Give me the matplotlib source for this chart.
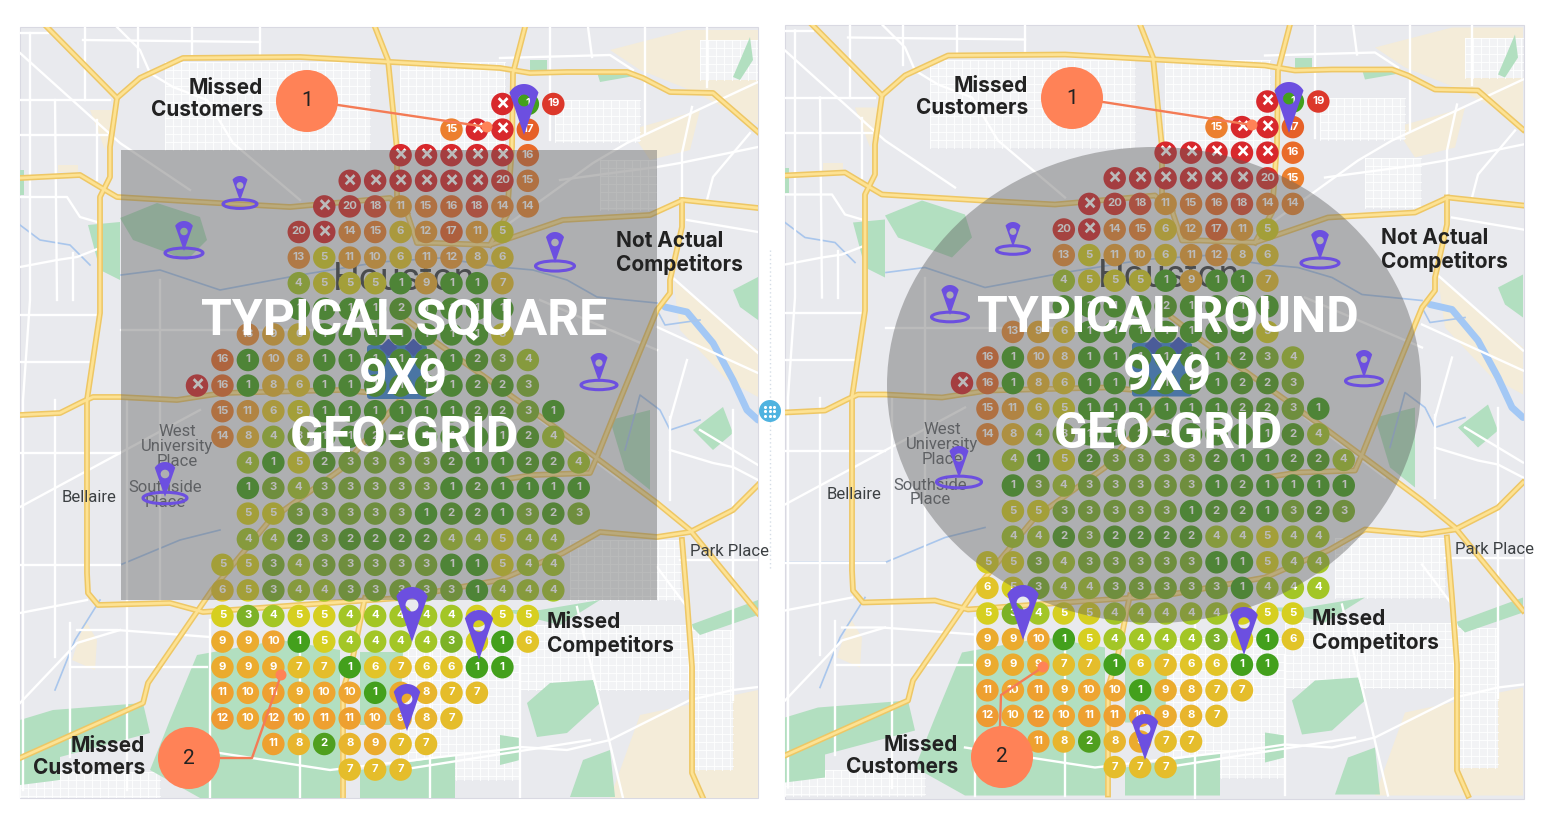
import matplotlib
matplotlib.use("Agg")
import matplotlib.pyplot as plt
import numpy as np
from matplotlib.patches import Circle, Ellipse, FancyBboxPatch, PathPatch, Polygon, Rectangle
from matplotlib.path import Path

# grid scores, "X" = not ranked. each row starts at the column in row_start
row_start = [12, 10, 8, 6, 5, 4, 4, 4, 4, 2, 1, 0, 1, 1, 2, 2, 2, 2, 1, 1, 1, 1, 1, 1, 1, 3, 6]
row_scores = [
    ["X", 1, 19],
    [15, "X", "X", 17],
    ["X", "X", "X", "X", "X", 16],
    ["X", "X", "X", "X", "X", "X", 20, 15],
    ["X", 20, 18, 11, 15, 16, 18, 14, 14],
    [20, "X", 14, 15, 6, 12, 17, 11, 5],
    [13, 5, 11, 10, 6, 11, 12, 8, 6],
    [4, 5, 5, 5, 1, 9, 1, 1, 7],
    [1, 1, 1, 1, 2, 1, 1, 1, 1],
    [13, 9, 6, 1, 1, 1, 1, 1, 1, 1, 5],
    [16, 1, 10, 8, 1, 1, 1, 1, 1, 1, 2, 3, 4],
    ["X", 16, 1, 8, 6, 1, 1, 1, 1, 1, 1, 2, 2, 3],
    [15, 11, 6, 5, 1, 1, 1, 1, 1, 1, 2, 2, 3, 1],
    [14, 8, 4, 3, 1, 1, 2, 2, 1, 1, 1, 1, 2, 4],
    [4, 1, 5, 2, 3, 3, 3, 3, 2, 1, 1, 2, 2, 4],
    [1, 3, 4, 3, 3, 3, 3, 3, 1, 2, 1, 1, 1, 1],
    [5, 5, 3, 3, 3, 3, 3, 1, 2, 2, 1, 3, 2, 3],
    [4, 4, 2, 3, 2, 2, 2, 2, 4, 4, 5, 4, 4],
    [5, 5, 3, 4, 3, 3, 3, 3, 3, 1, 1, 5, 4, 4],
    [6, 5, 3, 4, 4, 3, 3, 3, 3, 3, 1, 4, 4, 4],
    [5, 3, 4, 5, 5, 4, 4, 4, 4, 4, 5, 5, 5],
    [9, 9, 10, 1, 5, 4, 4, 4, 4, 3, 5, 1, 6],
    [9, 9, 9, 7, 7, 1, 6, 7, 6, 6, 1, 1],
    [11, 10, 11, 9, 10, 10, 1, 9, 8, 7, 7],
    [12, 10, 12, 10, 11, 11, 10, 9, 8, 7],
    [11, 8, 2, 8, 9, 7, 7],
    [7, 7, 7],
]

score_colors = {
    1: "#43a01c", 2: "#4f9f1e", 3: "#7cb227", 4: "#a3c626", 5: "#d6cf20",
    6: "#e2c428", 7: "#e5bd2b", 8: "#e8b52d", 9: "#ebab2e", 10: "#eea531",
    11: "#eea030", 12: "#ee9a32", 13: "#ec8e35", 14: "#ec8730", 15: "#ec7f2e",
    16: "#e96b2a", 17: "#e66028", 18: "#e14a2e", 19: "#dc382b", 20: "#d9302b",
    "X": "#d8282c",
}

# map geometry, drawn for the left panel and shifted for the right one
highways = [
    [(47, 27), (117, 98), (110, 147), (110, 177), (100, 197), (100, 313), (87, 400), (87, 573),
     (88, 593), (98, 605), (170, 603), (203, 612), (300, 605), (400, 598), (500, 580), (563, 553),
     (600, 532), (657, 537), (690, 532), (733, 510), (758, 485)],
    [(117, 98), (140, 78), (183, 58), (300, 57), (500, 68), (530, 73), (567, 72), (627, 72),
     (643, 78), (670, 92), (713, 93), (758, 132)],
    [(20, 178), (80, 175), (100, 187), (117, 197), (217, 203), (290, 207), (390, 198), (407, 213),
     (417, 243), (435, 243), (490, 245), (563, 220), (650, 215), (683, 200), (758, 208)],
    [(20, 415), (60, 413), (82, 402), (93, 397), (120, 397), (177, 400), (223, 393), (340, 390), (400, 395)],
    [(20, 758), (143, 703), (148, 683), (212, 590), (270, 520), (340, 470), (400, 400)],
    [(375, 27), (388, 60), (397, 150), (397, 200), (407, 213)],
    [(525, 27), (513, 73), (512, 147), (507, 215), (490, 245)],
    [(407, 320), (437, 343), (517, 400), (563, 433), (657, 503), (690, 530), (758, 613)],
    [(682, 200), (682, 227), (670, 280), (670, 293), (657, 310), (620, 400), (597, 457), (590, 473), (533, 475), (500, 480)],
    [(682, 540), (687, 600), (692, 667), (692, 773), (703, 798)],
    [(343, 797), (343, 690), (353, 657), (363, 607), (365, 598)],
]
white_roads = [
    [(20, 33), (48, 33)], [(83, 40), (260, 42)], [(138, 27), (138, 67)], [(85, 27), (85, 100)],
    [(192, 27), (192, 57)], [(260, 27), (260, 57)], [(30, 33), (30, 300), (23, 400), (23, 790)],
    [(20, 53), (120, 143), (190, 190)], [(20, 100), (110, 100)], [(20, 135), (107, 135)],
    [(55, 100), (57, 300)], [(73, 253), (73, 300)], [(20, 197), (67, 197), (80, 217), (97, 222)],
    [(20, 267), (57, 260), (77, 257), (100, 248)], [(117, 27), (140, 50), (150, 73), (173, 87), (207, 100), (233, 143), (300, 200)],
    [(97, 120), (97, 180)], [(20, 315), (100, 315)], [(20, 362), (90, 362)], [(20, 453), (120, 453)],
    [(20, 507), (120, 453), (200, 410)], [(20, 565), (120, 565)], [(20, 613), (87, 600)],
    [(77, 630), (117, 630), (210, 637)], [(20, 703), (77, 643), (120, 630)], [(70, 667), (207, 667)],
    [(55, 400), (55, 657)], [(127, 400), (127, 790)], [(70, 623), (70, 757)],
    [(670, 417), (670, 500)], [(670, 450), (713, 463), (733, 467), (758, 480)], [(733, 410), (733, 700)],
    [(657, 567), (687, 607), (692, 630)], [(577, 607), (623, 798)],
    [(200, 750), (330, 770), (500, 750), (520, 747), (567, 750), (610, 740), (690, 700), (733, 690), (758, 687)],
    [(520, 657), (520, 797)], [(550, 27), (550, 140)], [(588, 27), (592, 57)], [(645, 27), (645, 133)],
    [(707, 27), (707, 87)], [(500, 58), (610, 55), (633, 70)], [(758, 82), (627, 143), (593, 163), (500, 230)],
    [(692, 107), (682, 153), (682, 197)], [(758, 147), (680, 163), (657, 167), (560, 180)],
    [(750, 133), (713, 177), (707, 200)], [(687, 220), (758, 232)], [(672, 277), (758, 353)],
    [(657, 327), (758, 373)], [(687, 360), (670, 420)], [(121, 330), (340, 330)], [(160, 280), (160, 600)],
    [(540, 300), (657, 350)], [(540, 420), (620, 480)], [(430, 620), (430, 800)], [(300, 640), (300, 798)],
    [(210, 620), (210, 798)], [(400, 770), (590, 740)], [(680, 560), (758, 560)], [(700, 430), (758, 465)],
]
dense_blocks = [
    (165, 62, 370, 150), (400, 62, 505, 150), (555, 100, 640, 142), (690, 630, 733, 770), (520, 625, 690, 690),
    (570, 540, 680, 600), (20, 772, 160, 798), (400, 640, 520, 780), (600, 160, 656, 210), (700, 40, 758, 80),
]
parks = [
    [(197, 655), (280, 640), (340, 650), (340, 798), (200, 798), (150, 770), (170, 720)],
    [(360, 652), (403, 652), (400, 725), (360, 725)],
    [(360, 770), (455, 755), (455, 798), (360, 798)],
    [(527, 703), (550, 683), (593, 680), (600, 703), (567, 733), (537, 737)],
    [(500, 735), (520, 738), (520, 760), (500, 765)], [(583, 760), (610, 750), (615, 797), (570, 797)],
    [(120, 218), (157, 203), (200, 217), (207, 240), (187, 260), (133, 240)],
    [(88, 225), (120, 222), (120, 280), (100, 270)],
    [(733, 290), (758, 277), (758, 320), (740, 307)], [(733, 77), (750, 37), (753, 60), (740, 80)],
    [(530, 60), (547, 60), (547, 73), (530, 73)], [(597, 72), (640, 75), (600, 82)],
    [(693, 430), (723, 407), (733, 433), (713, 450)], [(610, 420), (650, 410), (650, 490), (625, 470)],
    [(20, 720), (53, 710), (143, 703), (150, 733), (60, 757), (60, 780), (20, 785)],
    [(500, 610), (540, 610), (600, 600), (560, 625)], [(690, 625), (758, 600), (758, 615), (700, 635)],
    [(20, 195), (24, 195), (24, 170), (20, 170)],
]
beige = [
    [(640, 715), (758, 690), (758, 798), (610, 798)], [(673, 280), (758, 350), (758, 397), (727, 380), (680, 330)],
    [(610, 50), (687, 30), (758, 30), (758, 125), (690, 90), (640, 70)], [(630, 130), (700, 110), (690, 150), (650, 160)],
    [(90, 110), (117, 110), (105, 150)], [(58, 165), (78, 165), (78, 172), (58, 172)], [(97, 640), (85, 620), (72, 660), (95, 670)],
]
rivers = [[(665, 307), (687, 312), (713, 343), (733, 380), (747, 410), (758, 420)]]
bayous = [
    [(657, 303), (597, 297), (567, 280), (533, 270), (500, 267), (440, 258), (380, 262), (300, 275), (220, 290), (160, 270), (121, 275)],
    [(657, 310), (665, 325), (700, 320)], [(700, 420), (670, 430), (660, 410), (640, 395), (625, 450)],
    [(20, 225), (40, 240), (70, 245), (90, 265)], [(20, 565), (120, 565), (180, 540), (220, 530)], [(55, 690), (75, 640), (100, 600)],
]

map_labels = ["Houston", "West\nUniversity\nPlace", "Southside\nPlace", "Bellaire", "Park Place"]
callout_names = ["1", "2"]
line_one = "Missed\nCustomers"
line_two = "Not Actual\nCompetitors"
line_three = "Missed\nCompetitors"

PURPLE = "#6c4fe0"
ORANGE = "#ff8257"
MAP_BG = "#e9eaee"
TEXT_FONT = ["Inter", "DejaVu Sans"]
TITLE_FONT = ["Liberation Sans Narrow", "Roboto"]

fig = plt.figure(figsize=(15.49, 8.25), dpi=100, facecolor="white")
ax = fig.add_axes([0, 0, 1, 1])
ax.set_xlim(0, 1549)
ax.set_ylim(825, 0)
ax.axis("off")


def pin_path(x, top, tip, w):
    r = w / 2
    cy = top + r
    d = tip - cy
    phi = np.arcsin(min(r / d, 1))
    a = np.linspace(np.pi / 2 + phi - 2 * np.pi + np.pi, np.pi / 2 - phi + np.pi, 60)
    # arc from lower right, over the top, to lower left
    a = np.linspace(phi, np.pi - phi, 60)
    px = x + r * np.cos(a)
    py = cy - r * np.sin(a)
    verts = [(x, tip)] + list(zip(px, py)) + [(x, tip)]
    codes = [Path.MOVETO] + [Path.LINETO] * (len(verts) - 2) + [Path.CLOSEPOLY]
    hole_r = r * 0.36
    t = np.linspace(0, 2 * np.pi, 30)
    hx = x + hole_r * np.cos(t)
    hy = cy + hole_r * np.sin(t)
    verts2 = list(zip(hx, hy))
    codes2 = [Path.MOVETO] + [Path.LINETO] * (len(verts2) - 2) + [Path.CLOSEPOLY]
    return Path(verts + verts2, codes + codes2)


def draw_pin(x, top, tip, w, ring_y=None, ring_w=0):
    ax.add_patch(PathPatch(pin_path(x, top, tip, w), fc=PURPLE, ec="none", zorder=10))
    if ring_y is not None:
        ax.add_patch(Ellipse((x, ring_y), ring_w, ring_w * 0.26, fc="none", ec=PURPLE, lw=2.2, zorder=10))


def draw_map(dx, dy, x0, y0, x1, y1):
    clip = Rectangle((x0, y0), x1 - x0, y1 - y0, transform=ax.transData)
    ax.add_patch(Rectangle((x0, y0), x1 - x0, y1 - y0, fc=MAP_BG, ec="#d9d9e2", lw=0.8, zorder=0.5))

    def clipped(artist):
        artist.set_clip_path(clip)
        return artist

    for pts in beige:
        clipped(ax.add_patch(Polygon([(a + dx, b + dy) for a, b in pts], fc="#f4ecd9", ec="none", zorder=1)))
    for bx0, by0, bx1, by1 in dense_blocks:
        clipped(ax.add_patch(Rectangle((bx0 + dx, by0 + dy), bx1 - bx0, by1 - by0, fc="#f2f3f5", ec="none", zorder=1.1)))
        for xx in np.arange(bx0, bx1, 8):
            clipped(ax.plot([xx + dx, xx + dx], [by0 + dy, by1 + dy], color="white", lw=0.6, zorder=1.2)[0])
        for yy in np.arange(by0, by1, 8):
            clipped(ax.plot([bx0 + dx, bx1 + dx], [yy + dy, yy + dy], color="white", lw=0.6, zorder=1.2)[0])
    for pts in parks:
        clipped(ax.add_patch(Polygon([(a + dx, b + dy) for a, b in pts], fc="#b2dfc0", ec="none", zorder=1.5)))
    for pts in rivers:
        xs, ys = zip(*pts)
        clipped(ax.plot(np.array(xs) + dx, np.array(ys) + dy, color="#a3c8f5", lw=5, solid_capstyle="round", zorder=1.6)[0])
    for pts in bayous:
        xs, ys = zip(*pts)
        clipped(ax.plot(np.array(xs) + dx, np.array(ys) + dy, color="#a9c6ec", lw=1.2, zorder=1.6)[0])
    for pts in white_roads:
        xs, ys = zip(*pts)
        clipped(ax.plot(np.array(xs) + dx, np.array(ys) + dy, color="white", lw=1.7, zorder=2)[0])
    for pts in highways:
        xs, ys = zip(*pts)
        clipped(ax.plot(np.array(xs) + dx, np.array(ys) + dy, color="#eec765", lw=4.2, solid_joinstyle="round", zorder=3)[0])
    for pts in highways:
        xs, ys = zip(*pts)
        clipped(ax.plot(np.array(xs) + dx, np.array(ys) + dy, color="#fde293", lw=2.0, solid_joinstyle="round", zorder=3.1)[0])

    # place names sit under the grid and the overlay
    ax.text(404 + dx, 279 + dy, map_labels[0], fontsize=27, color="#3c4043", ha="center", va="center", family="Roboto", zorder=4)
    ax.text(177 + dx, 447 + dy, map_labels[1], fontsize=12, color="#5f6368", ha="center", va="center", family="Roboto", linespacing=1.0, zorder=4)
    ax.text(165 + dx, 495 + dy, map_labels[2], fontsize=12, color="#5f6368", ha="center", va="center", family="Roboto", linespacing=1.0, zorder=4)
    ax.text(89 + dx, 497 + dy, map_labels[3], fontsize=12, color="#3c4043", ha="center", va="center", family="Roboto", zorder=4)
    clipped(ax.text(690 + dx, 552 + dy, map_labels[4], fontsize=12, color="#3c4043", ha="left", va="center", family="Roboto", zorder=4))

    ax.add_patch(FancyBboxPatch((367 + dx, 345 + dy), 60, 54, boxstyle="round,pad=0,rounding_size=3", fc="#3d86d8", ec="none", zorder=4.5))
    for bx in (388, 413):
        ax.plot([bx + dx], [347 + dy], marker="D", ms=8, color="#3f5cc4", zorder=4.6)


def draw_grid(dx, dy):
    xs, ys, cs = [], [], []
    for row, (start, scores) in enumerate(zip(row_start, row_scores)):
        for k, score in enumerate(scores):
            x = 197 + 25.45 * (start + k) + dx
            y = 104 + 25.6 * row + dy
            xs.append(x)
            ys.append(y)
            cs.append(score_colors[score])
            label = "×" if score == "X" else str(score)
            size = 15 if score == "X" else 8.2
            ax.text(x, y - 0.5, label, fontsize=size, fontweight="bold", color="white", ha="center", va="center",
                    family=TEXT_FONT, zorder=7)
    ax.scatter(xs, ys, s=262, c=cs, linewidths=0, zorder=6)


def draw_titles(cx, first, y0, y1, y2, size):
    ax.text(cx, y0, first, fontsize=size, fontweight="bold", color="white", ha="center", va="center", family=TITLE_FONT, zorder=12)
    ax.text(cx, y1, "9X9", fontsize=size, fontweight="bold", color="white", ha="center", va="center", family=TITLE_FONT, zorder=12)
    ax.text(cx, y2, "GEO-GRID", fontsize=size, fontweight="bold", color="white", ha="center", va="center", family=TITLE_FONT, zorder=12)


def label(x, y, txt, ha):
    ax.text(x, y, txt, fontsize=15, fontweight="bold", color="#222222", ha=ha, va="center", family=TEXT_FONT, linespacing=1.12, zorder=11)


def callout(x, y, name, line_x, line_y):
    ax.plot(line_x, line_y, color="#f47b55", lw=1.7, zorder=10.5)
    ax.add_patch(Circle((line_x[-1], line_y[-1]), 5.5, fc=ORANGE, ec="none", zorder=10.5))
    ax.add_patch(Circle((x, y), 31, fc=ORANGE, ec="none", zorder=11))
    ax.text(x, y, name, fontsize=15, color="#222222", ha="center", va="center", family="Roboto", zorder=12)


# left panel
draw_map(0, 0, 20, 27, 758, 798)
draw_grid(0, 0)
ax.add_patch(Rectangle((121, 150), 536, 450, fc="#5e5e5e", ec="none", alpha=0.42, zorder=8))
draw_titles(404, "TYPICAL SQUARE", 321, 380, 438, 36)
draw_pin(524, 84, 135, 33)
draw_pin(412, 587, 642, 36)
draw_pin(479, 610, 660, 32)
draw_pin(407, 684, 731, 30)
draw_pin(240, 176, 201, 19, 204, 34)
draw_pin(184, 221, 251, 21, 253, 38)
draw_pin(555, 232, 263, 21, 266, 39)
draw_pin(599, 353, 382, 20, 385, 36)
draw_pin(165, 462, 497, 24, 498, 44)
label(263, 99, line_one, "right")
label(616, 253, line_two, "left")
label(547, 634, line_three, "left")
label(145, 757, line_one, "right")
callout(307, 101, callout_names[0], [338, 487], [105, 127])
callout(189, 758, callout_names[1], [220, 252, 281], [758, 758, 675])

# right panel, same map a bit shifted
draw_map(765, -2.5, 785, 25, 1524, 799)
draw_grid(765, -2.5)
ax.add_patch(Ellipse((1154, 385), 534, 476, fc="#5e5e5e", ec="none", alpha=0.42, zorder=8))
draw_titles(1168, "TYPICAL ROUND", 318, 376, 435, 36)
draw_pin(1289, 82, 133, 33)
draw_pin(1023, 585, 640, 36)
draw_pin(1244, 607, 655, 32)
draw_pin(1145, 714, 760, 30)
draw_pin(1013, 222, 247, 19, 250, 33)
draw_pin(950, 285, 315, 20, 317, 37)
draw_pin(1320, 230, 260, 21, 263, 38)
draw_pin(1364, 350, 378, 19, 381, 37)
draw_pin(959, 446, 478, 23, 482, 45)
label(1028, 97, line_one, "right")
label(1381, 250, line_two, "left")
label(1312, 631, line_three, "left")
label(958, 756, line_one, "right")
callout(1072, 98, callout_names[0], [1103, 1252], [102, 125])
callout(1002, 757, callout_names[1], [1000, 1001, 1043], [726, 695, 667])

# drag handle between the panels
ax.plot([770, 770], [250, 570], color="#d5dde6", lw=1, ls=(0, (1, 2)), zorder=1)
ax.add_patch(Circle((770, 411), 11, fc="#4fb3e0", ec="none", zorder=5))
hx, hy = np.meshgrid([-4.5, 0, 4.5], [-4.5, 0, 4.5])
ax.scatter(770 + hx.ravel(), 411 + hy.ravel(), s=5, c="white", linewidths=0, zorder=6)

fig.savefig("out.png", dpi=100)
